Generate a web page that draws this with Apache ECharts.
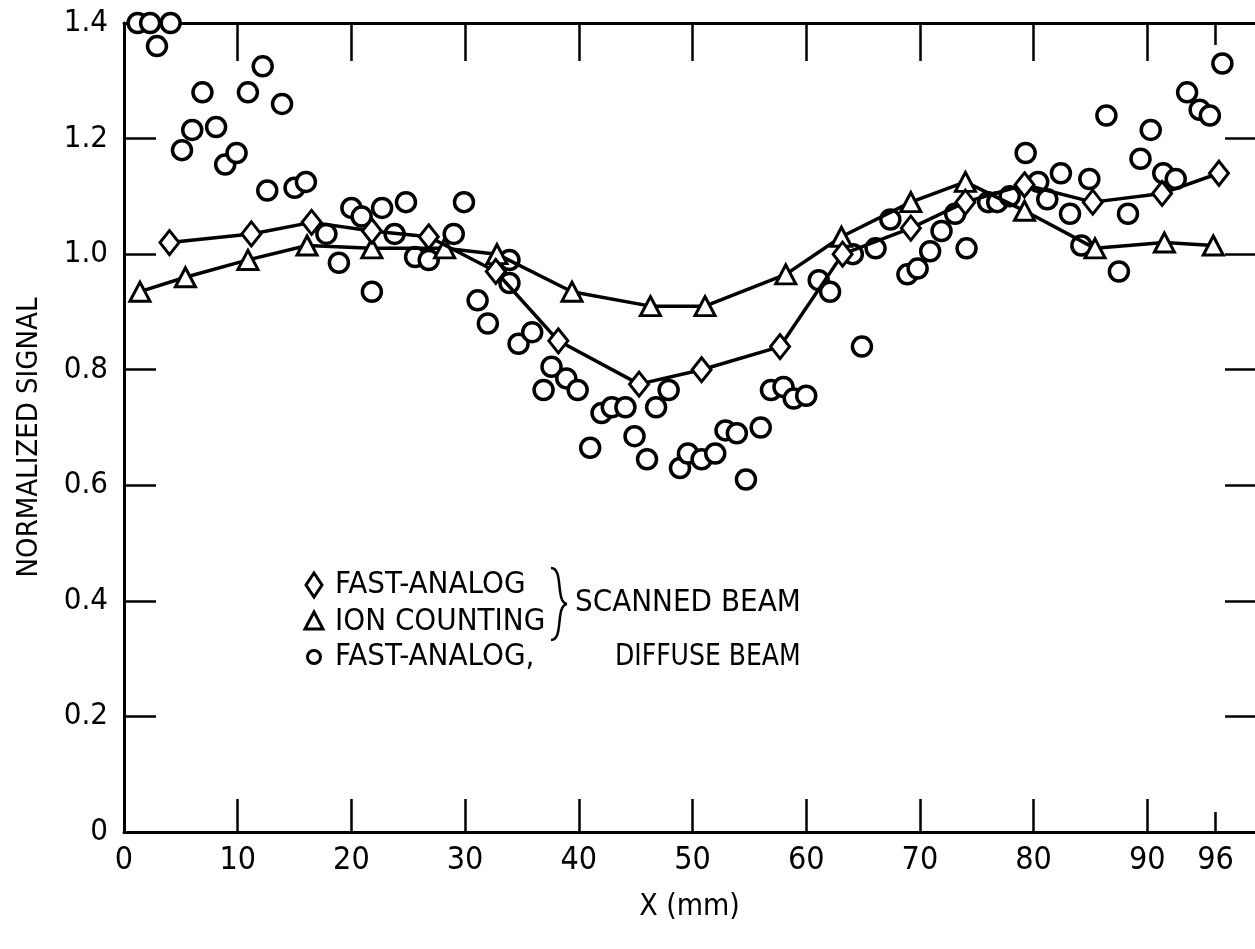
<!DOCTYPE html>
<html>
<head>
<meta charset="utf-8">
<title>Normalized signal vs X</title>
<script src="https://cdn.jsdelivr.net/npm/echarts@6/dist/echarts.min.js"></script>
<style>
  html, body { margin: 0; padding: 0; background: #fff; }
  #chart { width: 1255px; height: 949px; }
</style>
</head>
<body>
<div id="chart"></div>
<script>
// tick labels
const xTickValues = [0, 10, 20, 30, 40, 50, 60, 70, 80, 90]
const xEndTick = [96]

// diamonds: fast-analog, scanned beam
const fastAnalogX = [4.0, 11.2, 16.5, 21.8, 26.8, 32.7, 38.2, 45.3, 50.8, 57.7, 63.2, 69.2, 74.0, 79.2, 85.2, 91.3, 96.3]
const fastAnalogY = [1.02, 1.035, 1.055, 1.04, 1.03, 0.97, 0.85, 0.775, 0.80, 0.84, 1.0, 1.045, 1.09, 1.12, 1.09, 1.105, 1.14]

// triangles: ion counting, scanned beam
const ionCountX = [1.4, 5.4, 10.9, 16.1, 21.8, 28.2, 32.8, 39.4, 46.3, 51.1, 58.2, 63.1, 69.2, 74.0, 79.2, 85.4, 91.5, 95.8]
const ionCountY = [0.935, 0.96, 0.99, 1.015, 1.01, 1.01, 1.0, 0.935, 0.91, 0.91, 0.965, 1.03, 1.09, 1.125, 1.075, 1.01, 1.02, 1.015]

// circles: fast-analog, diffuse beam
const diffuseX = [1.2, 2.3, 2.9, 4.1, 5.1, 6.0, 6.9, 8.1, 8.9, 9.9, 10.9, 12.2, 12.6, 13.9, 15.0, 16.0,
  17.8, 18.9, 20.0, 20.9, 21.8, 22.7, 23.8, 24.8, 25.6, 26.8, 29.0, 29.9, 31.1, 32.0, 33.9, 33.9,
  34.7, 35.9, 36.9, 37.6, 38.9, 39.9, 41.0, 42.0, 42.9, 44.1, 44.9, 46.0, 46.8, 47.9, 48.9, 49.6,
  50.8, 52.0, 52.9, 53.9, 54.7, 56.0, 56.9, 58.0, 58.9, 60.0, 61.1, 62.1, 64.1, 64.9, 66.1, 67.4,
  68.9, 69.8, 70.9, 71.9, 73.1, 74.1, 76.0, 76.8, 77.9, 79.3, 80.4, 81.2, 82.4, 83.2, 84.2, 84.9,
  86.4, 87.5, 88.3, 89.4, 90.3, 91.4, 92.5, 93.5, 94.6, 95.5, 96.6]
const diffuseY = [1.40, 1.40, 1.36, 1.40, 1.18, 1.215, 1.28, 1.22, 1.155, 1.175, 1.28, 1.325, 1.11, 1.26, 1.115, 1.125,
  1.035, 0.985, 1.08, 1.065, 0.935, 1.08, 1.035, 1.09, 0.995, 0.99, 1.035, 1.09, 0.92, 0.88, 0.99, 0.95,
  0.845, 0.865, 0.765, 0.805, 0.785, 0.765, 0.665, 0.725, 0.735, 0.735, 0.685, 0.645, 0.735, 0.765, 0.63, 0.655,
  0.645, 0.655, 0.695, 0.69, 0.61, 0.70, 0.765, 0.77, 0.75, 0.755, 0.955, 0.935, 1.0, 0.84, 1.01, 1.06,
  0.965, 0.975, 1.005, 1.04, 1.07, 1.01, 1.09, 1.09, 1.10, 1.175, 1.125, 1.095, 1.14, 1.07, 1.015, 1.13,
  1.24, 0.97, 1.07, 1.165, 1.215, 1.14, 1.13, 1.28, 1.25, 1.24, 1.33]

const zip = (xs, ys) => xs.map((x, i) => [x, ys[i]])

const COND = "'DejaVu Sans Condensed', sans-serif"
const X_MAX = 99.47

const markStyle = { color: '#fff', borderColor: '#000', borderWidth: 3 }
const legendFont = "31px 'DejaVu Sans Condensed', sans-serif"
const tickStyle = { color: '#000', width: 2.5 }

const chart = echarts.init(document.getElementById('chart'), null, { renderer: 'canvas' })

const option = {
  animation: false,
  backgroundColor: '#fff',
  grid: { left: 124, right: -3, top: 23, bottom: 117 },
  xAxis: [
    {
      // main bottom axis
      type: 'value', position: 'bottom', min: 0, max: X_MAX,
      name: 'X (mm)', nameLocation: 'middle', nameGap: 60,
      nameTextStyle: { fontFamily: COND, fontSize: 30, color: '#000' },
      axisLine: { onZero: false, lineStyle: { color: '#000', width: 3 } },
      axisTick: { inside: true, length: 33, customValues: xTickValues, lineStyle: tickStyle },
      axisLabel: { customValues: xTickValues, margin: 13, fontFamily: COND, fontSize: 32, color: '#000' },
      splitLine: { show: false }
    },
    {
      // the short 96 tick
      type: 'value', position: 'bottom', min: 0, max: X_MAX,
      axisLine: { show: false, onZero: false },
      axisTick: { inside: true, length: 20, customValues: xEndTick, lineStyle: tickStyle },
      axisLabel: { customValues: xEndTick, margin: 13, fontFamily: COND, fontSize: 32, color: '#000' },
      splitLine: { show: false }
    },
    {
      // top frame
      type: 'value', position: 'top', min: 0, max: X_MAX,
      axisLine: { onZero: false, lineStyle: { color: '#000', width: 3 } },
      axisTick: { inside: true, length: 38, customValues: xTickValues.slice(1), lineStyle: tickStyle },
      axisLabel: { show: false },
      splitLine: { show: false }
    },
    {
      type: 'value', position: 'top', min: 0, max: X_MAX,
      axisLine: { show: false, onZero: false },
      axisTick: { inside: true, length: 22, customValues: xEndTick, lineStyle: tickStyle },
      axisLabel: { show: false },
      splitLine: { show: false }
    }
  ],
  yAxis: [
    {
      type: 'value', position: 'left', min: 0, max: 1.4, interval: 0.2,
      name: 'NORMALIZED SIGNAL', nameLocation: 'middle', nameGap: 80,
      nameTextStyle: { fontFamily: COND, fontSize: 29, color: '#000', padding: [0, 20, 0, 0] },
      axisLine: { onZero: false, lineStyle: { color: '#000', width: 3 } },
      axisTick: { inside: true, length: 32, lineStyle: tickStyle },
      axisLabel: {
        margin: 16, fontFamily: COND, fontSize: 31, color: '#000',
        formatter: (v) => (v === 0 ? '0' : v.toFixed(1))
      },
      splitLine: { show: false }
    },
    {
      // right side ticks only
      type: 'value', position: 'right', min: 0, max: 1.4, interval: 0.2,
      axisLine: { show: false, onZero: false },
      axisTick: { show: true, inside: true, length: 30, lineStyle: tickStyle },
      axisLabel: { show: false },
      splitLine: { show: false }
    }
  ],
  series: [
    {
      name: 'FAST-ANALOG, DIFFUSE BEAM',
      type: 'scatter',
      data: zip(diffuseX, diffuseY),
      symbol: 'circle',
      symbolSize: 19,
      itemStyle: { color: '#fff', borderColor: '#000', borderWidth: 3.5, opacity: 1 },
      clip: false,
      z: 2
    },
    {
      name: 'ION COUNTING',
      type: 'line',
      data: zip(ionCountX, ionCountY),
      symbol: 'triangle',
      symbolSize: [20, 19],
      showAllSymbol: true,
      lineStyle: { color: '#000', width: 3.5 },
      itemStyle: markStyle,
      clip: false,
      z: 3
    },
    {
      name: 'FAST-ANALOG',
      type: 'line',
      data: zip(fastAnalogX, fastAnalogY),
      symbol: 'diamond',
      symbolSize: [19, 24],
      showAllSymbol: true,
      lineStyle: { color: '#000', width: 3.5 },
      itemStyle: markStyle,
      clip: false,
      z: 4
    }
  ],
  // hand-drawn legend box
  graphic: [
    { type: 'polygon', shape: { points: [[314, 573], [322, 585], [314, 597], [306, 585]] }, style: { fill: '#fff', stroke: '#000', lineWidth: 3 } },
    { type: 'polygon', shape: { points: [[314, 612], [323, 629], [305, 629]] }, style: { fill: '#fff', stroke: '#000', lineWidth: 3 } },
    { type: 'circle', shape: { cx: 314, cy: 657, r: 6.5 }, style: { fill: '#fff', stroke: '#000', lineWidth: 3 } },
    { type: 'text', x: 335, y: 585, style: { text: 'FAST-ANALOG', font: legendFont, fill: '#000', verticalAlign: 'middle' } },
    { type: 'text', x: 335, y: 622, style: { text: 'ION COUNTING', font: legendFont, fill: '#000', verticalAlign: 'middle' } },
    { type: 'text', x: 335, y: 657, style: { text: 'FAST-ANALOG,', font: legendFont, fill: '#000', verticalAlign: 'middle' } },
    // brace grouping the two scanned-beam rows
    { type: 'bezierCurve', shape: { x1: 551, y1: 568, cpx1: 564, cpy1: 568, cpx2: 555, cpy2: 602, x2: 567, y2: 604 }, style: { stroke: '#000', lineWidth: 2.5, fill: null } },
    { type: 'bezierCurve', shape: { x1: 567, y1: 604, cpx1: 555, cpy1: 606, cpx2: 564, cpy2: 640, x2: 551, y2: 640 }, style: { stroke: '#000', lineWidth: 2.5, fill: null } },
    { type: 'text', x: 575, y: 603, style: { text: 'SCANNED BEAM', font: legendFont, fill: '#000', verticalAlign: 'middle' } },
    { type: 'text', x: 615, y: 657, scaleX: 0.9, style: { text: 'DIFFUSE BEAM', font: legendFont, fill: '#000', verticalAlign: 'middle' } }
  ]
}

chart.setOption(option)
</script>
</body>
</html>
